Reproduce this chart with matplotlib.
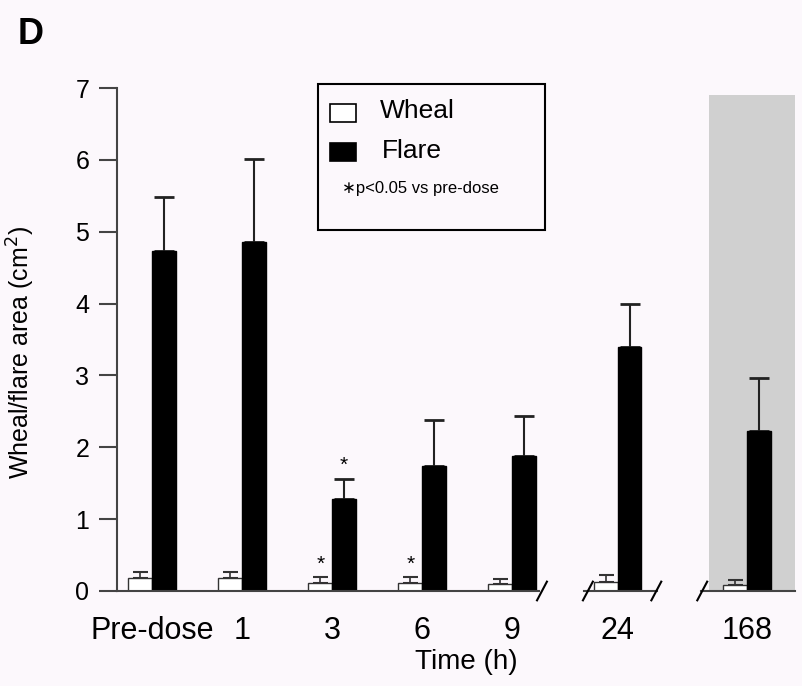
import numpy as np
import matplotlib.pyplot as plt
from matplotlib.patches import Rectangle

plt.rcParams['font.family'] = ['Liberation Sans', 'DejaVu Sans']

labels = ['Pre-dose', '1', '3', '6', '9', '24', '168']
wheal = [0.18, 0.18, 0.11, 0.11, 0.10, 0.13, 0.09]
wheal_err = [0.09, 0.09, 0.08, 0.08, 0.07, 0.09, 0.06]
flare = [4.73, 4.85, 1.28, 1.74, 1.88, 3.40, 2.22]
flare_err = [0.75, 1.16, 0.28, 0.64, 0.55, 0.60, 0.74]
sig_wheal = [False, False, True, True, False, False, False]
sig_flare = [False, False, True, False, False, False, False]

# layout (group centres, not data)
pos = np.array([0, 1, 2, 3, 4, 5.17, 6.61])
w = 0.265
bg = '#fcf8fc'

fig = plt.figure(figsize=(8.03, 6.86), dpi=100, facecolor=bg)
ax = fig.add_axes([0.1457, 0.1385, 0.8443, 0.7332], facecolor=bg)
ax.set_xlim(-0.39, 7.14)
ax.set_ylim(0, 7)

# shaded 168 h region
ax.axvspan(6.19, 7.14, ymin=0, ymax=6.9 / 7, color='#d0d0d0', lw=0, zorder=0)

ax.bar(pos - w / 2, wheal, w, color='white', edgecolor='#333333', lw=1.0, zorder=2)
ax.bar(pos + w / 2, flare, w, color='black', edgecolor='black', lw=1.0, zorder=2)
ax.errorbar(pos - w / 2, wheal, yerr=[np.zeros(7), wheal_err], fmt='none',
            ecolor='#333333', elinewidth=1.2, capsize=5.4, capthick=1.5, zorder=1)
ax.errorbar(pos + w / 2, flare, yerr=[np.zeros(7), flare_err], fmt='none',
            ecolor='#222222', elinewidth=1.5, capsize=7.2, capthick=2, zorder=1)

for i in range(7):
    if sig_wheal[i]:
        ax.text(pos[i] - w / 2, wheal[i] + wheal_err[i] + 0.05, '*', ha='center',
                va='bottom', fontsize=15)
    if sig_flare[i]:
        ax.text(pos[i] + w / 2, flare[i] + flare_err[i] + 0.05, '*', ha='center',
                va='bottom', fontsize=15)

# broken x axis baseline
for a, b in [(-0.39, 4.3), (4.8, 5.61), (6.1, 7.14)]:
    ax.plot([a, b], [0, 0], color='#444444', lw=1.5, clip_on=False, zorder=3)
for xb in [4.33, 4.84, 5.6, 6.11]:
    ax.plot([xb - 0.055, xb + 0.055], [-0.13, 0.13], color='black', lw=1.5,
            clip_on=False, zorder=3)

ax.spines['bottom'].set_visible(False)
ax.spines['top'].set_visible(False)
ax.spines['right'].set_visible(False)
ax.spines['left'].set_linewidth(1.5)
ax.spines['left'].set_color('#444444')

ax.set_yticks(range(8))
ax.tick_params(axis='y', length=13, width=1.5, color='#444444', labelsize=18, pad=7)
ax.set_xticks(pos)
ax.set_xticklabels(labels)
ax.tick_params(axis='x', length=0, labelsize=22, pad=18)
ax.set_xlabel('Time (h)', fontsize=20, va='top')
ax.xaxis.set_label_coords(0.515, -0.116)
ax.set_ylabel('Wheal/flare area (cm$^2$)', fontsize=18)
ax.yaxis.set_label_coords(-0.118, 0.475)

# legend box
ax.add_patch(Rectangle((0.296, 0.718), 0.335, 0.29, transform=ax.transAxes,
                       fill=False, edgecolor='black', lw=1.5, clip_on=False, zorder=5))
ax.add_patch(Rectangle((0.314, 0.932), 0.039, 0.036, transform=ax.transAxes,
                       facecolor='white', edgecolor='black', lw=1.2, clip_on=False, zorder=5))
ax.add_patch(Rectangle((0.314, 0.855), 0.039, 0.036, transform=ax.transAxes,
                       facecolor='black', edgecolor='black', lw=1.2, clip_on=False, zorder=5))
ax.text(0.388, 0.955, 'Wheal', transform=ax.transAxes, fontsize=19, va='center')
ax.text(0.390, 0.875, 'Flare', transform=ax.transAxes, fontsize=19, va='center')
ax.text(0.332, 0.801, '\u2217p<0.05 vs pre-dose', transform=ax.transAxes,
        fontsize=12, va='center')

fig.text(0.022, 0.95, 'D', fontsize=26, fontweight='bold', va='center')

fig.savefig('out.png', dpi=100, facecolor=bg)
